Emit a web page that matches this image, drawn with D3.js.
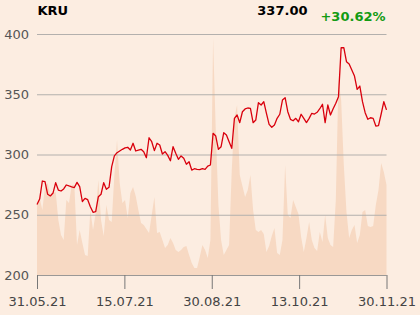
<!DOCTYPE html>
<html>
<head>
<meta charset="utf-8">
<script src="https://cdn.jsdelivr.net/npm/d3@7.9.0/dist/d3.min.js"></script>
<style>
  html, body { margin: 0; padding: 0; background: #fcede1; }
  svg { display: block; font-family: "DejaVu Sans", sans-serif; }
</style>
</head>
<body>
<svg id="chart" width="420" height="315"></svg>
<script>
const symbol = "KRU";
const lastPrice = "337.00";
const change = "+30.62%";

// daily closes, 31.05.21 .. 30.11.21
const prices = [
  258.5, 263, 278, 277.5, 267, 265.6, 268, 276.6, 270.5, 269.7,
  271.4, 274.7, 273.9, 273.2, 272.6, 276.9, 273.3, 261, 263.6, 262.5,
  256.7, 252, 252.5, 265, 267, 276.6, 271.1, 272.8, 289.9, 298.8,
  301.5, 302.9, 304.3, 305.5, 306, 303.7, 309.3, 302.9, 303.7, 304.3,
  302.3, 297.3, 313.9, 310.6, 303.2, 309.3, 307.9, 300.4, 302.3, 299.3,
  294.8, 306.5, 301, 296, 298.8, 296.8, 291.9, 294, 287.1, 288.2,
  287.6, 287.4, 288.2, 287.7, 290.4, 291.3, 317.6, 315.3, 304.3, 306.5,
  318.1, 316.2, 310.6, 305.1, 330, 332.8, 326.4, 335.5, 337.8, 338.6,
  338.3, 326.4, 328.6, 343, 341.1, 343.8, 334.2, 325, 322.6, 324.5,
  330, 333.4, 345.2, 347.1, 335.5, 329.2, 328, 330, 327.2, 333.4,
  330, 326.5, 330, 334.2, 333.6, 335, 338, 341.7, 326.4, 341.1,
  332.8, 338, 342.5, 348, 388.6, 388.6, 377, 375.1, 370.1, 365.1,
  354.1, 356.8, 343.8, 334.7, 329.2, 330.5, 330, 323.6, 323.9, 333.6,
  343.8, 337
];

// daily volume (thousands)
const volumes = [
  72, 77, 65, 88, 92, 79, 82, 83, 55, 40,
  35, 75, 72, 90, 90, 30, 45, 32, 20, 19,
  65, 45, 62, 95, 55, 39, 70, 55, 53, 100,
  135, 92, 72, 75, 57, 82, 88, 79, 65, 52,
  50, 46, 42, 60, 78, 42, 43, 35, 27, 30,
  37, 32, 25, 23, 25, 28, 29, 20, 12, 7,
  7, 18, 30, 25, 17, 35, 237, 145, 70, 35,
  20, 25, 30, 105, 157, 170, 100, 89, 78, 85,
  100, 65, 45, 43, 45, 41, 23, 29, 39, 47,
  22, 20, 35, 110, 60, 57, 75, 68, 61, 38,
  23, 37, 53, 35, 27, 24, 43, 33, 60, 37,
  30, 28, 75, 195, 175, 110, 63, 37, 45, 50,
  32, 40, 63, 65, 49, 48, 49, 70, 85, 112,
  103, 90
];

const xLabels = ["31.05.21", "15.07.21", "30.08.21", "13.10.21", "30.11.21"];
const yTicks = [200, 250, 300, 350, 400];

const plotL = 37, plotR = 386.5, plotT = 34, plotB = 275;

const svg = d3.select("#chart");

const x = d3.scaleLinear().domain([0, prices.length - 1]).range([plotL, plotR]);
const y = d3.scaleLinear().domain([200, 400]).range([plotB, plotT]);
const yVol = d3.scaleLinear().domain([0, 240]).range([plotB, plotB - 240]);

// volume in the background
const area = d3.area()
  .x((_, i) => x(i))
  .y0(plotB)
  .y1((d) => yVol(d));

svg.append("path")
  .datum(volumes)
  .attr("fill", "#f7d9c3")
  .attr("d", area);

// grid
const yAxis = d3.axisLeft(y)
  .tickValues(yTicks)
  .tickSize(-(plotR - plotL))
  .tickPadding(8)
  .tickFormat(d3.format("d"));

const gy = svg.append("g")
  .attr("transform", `translate(${plotL},0)`)
  .call(yAxis);
gy.select(".domain").remove();
gy.selectAll(".tick line").attr("stroke", "#b3b0ad").attr("stroke-width", 1);
gy.selectAll(".tick text")
  .attr("fill", "#555")
  .attr("font-size", 13)
  .attr("font-family", "DejaVu Sans, sans-serif");

// x axis, labels evenly spread over the period
const tickPos = xLabels.map((_, i) => (i * (prices.length - 1)) / (xLabels.length - 1));
const xAxis = d3.axisBottom(x)
  .tickValues(tickPos)
  .tickSize(14)
  .tickPadding(8)
  .tickFormat((_, i) => xLabels[i]);

const gx = svg.append("g")
  .attr("transform", `translate(0,${plotB})`)
  .call(xAxis);
gx.select(".domain").attr("stroke", "#9a9896").attr("d", `M${plotL},0.5H${plotR}`);
gx.selectAll(".tick line").attr("stroke", "#777");
gx.selectAll(".tick text")
  .attr("fill", "#444")
  .attr("font-size", 13)
  .attr("font-family", "DejaVu Sans, sans-serif");

// price line
const line = d3.line()
  .x((_, i) => x(i))
  .y((d) => y(d));

svg.append("path")
  .datum(prices)
  .attr("fill", "none")
  .attr("stroke", "#d9000d")
  .attr("stroke-width", 1.3)
  .attr("stroke-linejoin", "round")
  .attr("d", line);

// header
svg.append("text")
  .attr("x", 37.5).attr("y", 15)
  .attr("font-size", 13).attr("font-weight", "bold")
  .attr("fill", "#000")
  .text(symbol);

svg.append("text")
  .attr("x", 307.5).attr("y", 14.5)
  .attr("text-anchor", "end")
  .attr("font-size", 13).attr("font-weight", "bold")
  .attr("fill", "#000")
  .text(lastPrice);

svg.append("text")
  .attr("x", 385.5).attr("y", 21)
  .attr("text-anchor", "end")
  .attr("font-size", 13).attr("font-weight", "bold")
  .attr("fill", "#139b13")
  .text(change);
</script>
</body>
</html>
